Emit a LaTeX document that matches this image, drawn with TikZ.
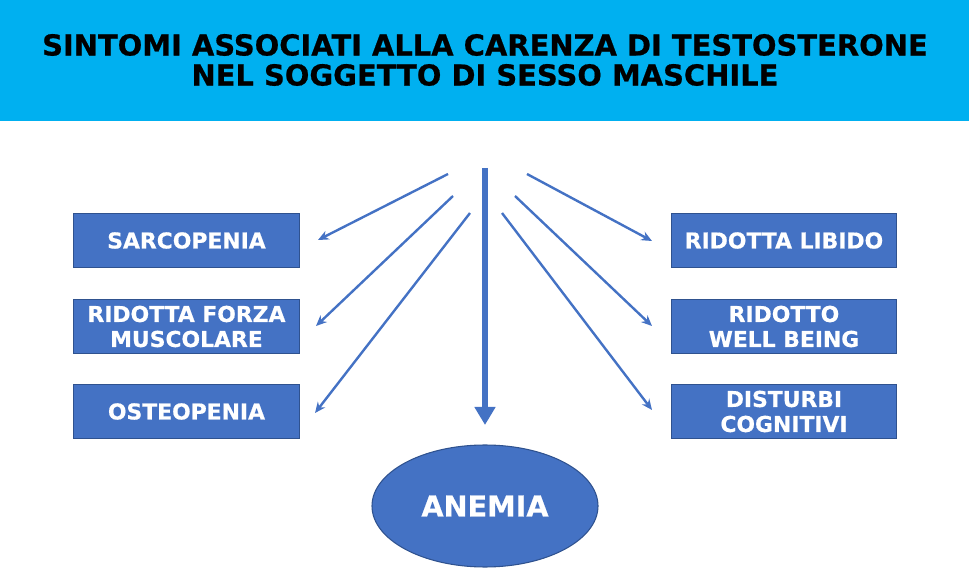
\documentclass[tikz,border=0pt]{standalone}
\usepackage{fontspec}
\setmainfont{DejaVu Sans}[BoldFeatures={FakeBold=0.6}]
\usepackage{tikz}
\usetikzlibrary{arrows.meta,positioning,shapes.geometric}
\definecolor{headblue}{HTML}{00B0F0}
\definecolor{boxblue}{HTML}{4472C4}
\definecolor{boxedge}{HTML}{2F528F}
\tikzset{
  symptom/.style={draw=boxedge, line width=0.8pt, fill=boxblue, text=white,
    minimum width=169pt, minimum height=40.5pt, align=center, inner sep=0pt,
    font=\bfseries\fontsize{16.4}{18.75}\selectfont},
  thinarrow/.style={draw=boxblue, line width=1.8pt, -{Stealth[length=8pt,width=7pt]}},
  bigarrow/.style={draw=boxblue, line width=4pt, -{Triangle[length=13.5pt,width=15pt]}}
}

\begin{document}
\begin{tikzpicture}[x=0.75pt, y=-0.75pt]
      \useasboundingbox (0, 0) rectangle (972, 570);

      \fill[headblue] (0, 0) rectangle (969, 121);
      \node[align=center, font=\bfseries\fontsize{21.7}{22.5}\selectfont] (title) at (485, 60)
        {SINTOMI ASSOCIATI ALLA CARENZA DI TESTOSTERONE\\NEL SOGGETTO DI SESSO MASCHILE};

      \node[symptom] (sarco) at (186.5, 240.5) {SARCOPENIA};
      \node[symptom] (forza) at (186.5, 326.5) {RIDOTTA FORZA\\MUSCOLARE};
      \node[symptom] (osteo) at (186.5, 411.5) {OSTEOPENIA};

      \node[symptom] (libido) at (784, 240.5) {RIDOTTA LIBIDO};
      \node[symptom] (well) at (784, 326.5) {RIDOTTO\\WELL BEING};
      \node[symptom] (cogn) at (784, 411.5) {DISTURBI\\COGNITIVI};

      \node[ellipse, draw=boxedge, line width=0.8pt, fill=boxblue, text=white,
        minimum width=169.5pt, minimum height=91.5pt, inner sep=0pt,
        font=\bfseries\fontsize{21.5}{24}\selectfont] (anemia) at (485, 506) {ANEMIA};

      \coordinate (sl1) at (448, 174);
      \coordinate (sl2) at (453, 196);
      \coordinate (sl3) at (470, 213);
      \coordinate (sr1) at (527, 174);
      \coordinate (sr2) at (515, 196);
      \coordinate (sr3) at (502, 213);
      \coordinate (sc) at (485, 168);

      \coordinate (el1) at (318, 240);
      \coordinate (el2) at (316, 326);
      \coordinate (el3) at (315, 413);
      \coordinate (er1) at (652, 241);
      \coordinate (er2) at (652, 326);
      \coordinate (er3) at (652, 410);
      \coordinate (ec) at (485, 425);

      \draw[thinarrow] (sl1) -- (el1);
      \draw[thinarrow] (sl2) -- (el2);
      \draw[thinarrow] (sl3) -- (el3);
      \draw[thinarrow] (sr1) -- (er1);
      \draw[thinarrow] (sr2) -- (er2);
      \draw[thinarrow] (sr3) -- (er3);

      \draw[bigarrow] (sc) -- (ec);
    \end{tikzpicture}
\end{document}
